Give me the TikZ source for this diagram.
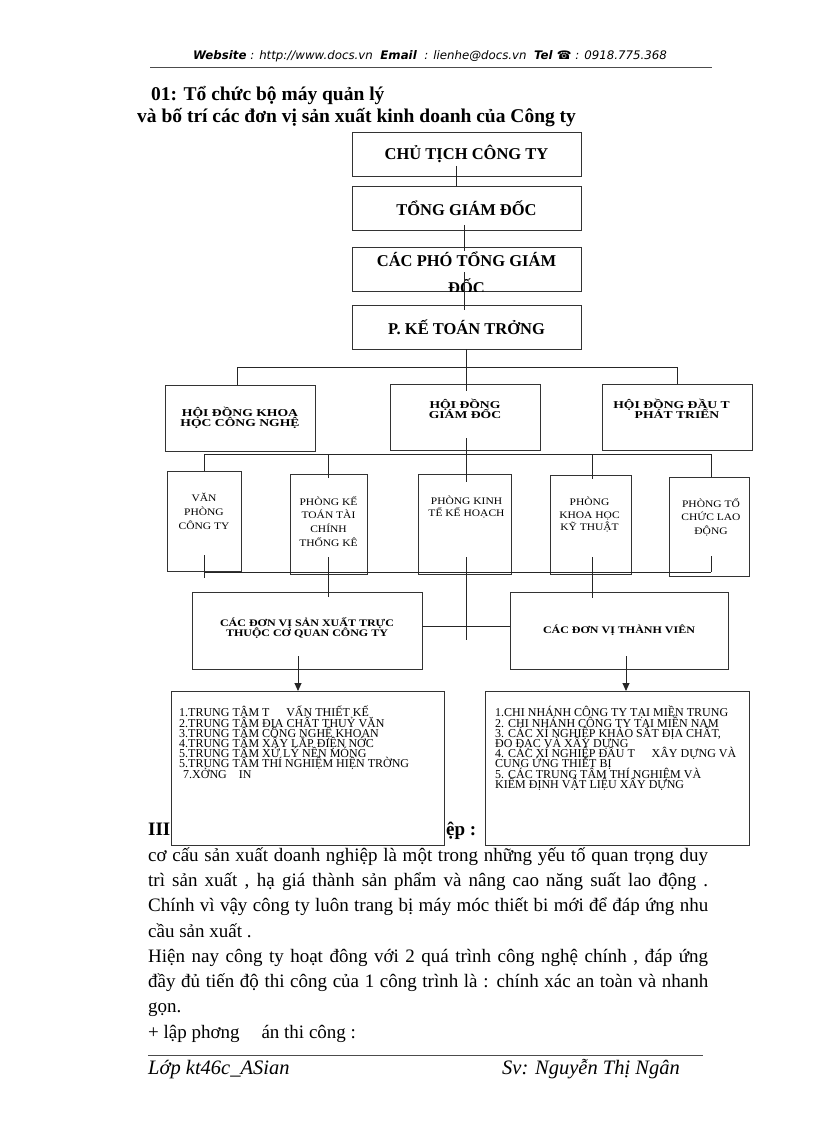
\documentclass[tikz,border=0pt]{standalone}
\usepackage{fontspec}
\setmainfont{Liberation Serif}
\newfontfamily\webfont{DejaVu Sans}
\newfontfamily\boxwide[FakeStretch=1.3]{Liberation Serif}
\newfontfamily\boxmid[FakeStretch=1.2]{Liberation Serif}
\newfontfamily\boxsmall[FakeStretch=1.15]{Liberation Serif}
\usetikzlibrary{positioning,arrows.meta}
\setlength{\lineskiplimit}{-30pt}

\tikzset{
  frame/.style={draw=black!80, line width=0.9pt, fill=white, inner sep=0pt, outer sep=0pt, anchor=north west, align=center},
  headbox/.style={frame, minimum width=229pt, minimum height=44pt, font=\bfseries\fontsize{16.5}{17}\selectfont},
  hoibox/.style={frame, minimum width=150pt, minimum height=66pt, font=\boxwide\bfseries\fontsize{10.5}{9.5}\selectfont},
  phongbox/.style={frame, minimum height=100pt},
  donvibox/.style={frame, minimum height=77pt, font=\boxmid\bfseries\fontsize{10}{9.7}\selectfont},
  listbox/.style={frame, minimum height=154pt},
  hoitext/.style={inner sep=0pt, align=center, font=\boxwide\bfseries\fontsize{10.5}{9.5}\selectfont},
  phongtext/.style={inner sep=0pt, align=center, font=\boxsmall\fontsize{10}{13.7}\selectfont},
  listtext/.style={inner sep=0pt, align=left, anchor=north west, font=\fontsize{12}{10.2}\selectfont},
  bodytext/.style={inner sep=0pt, anchor=base west, font=\fontsize{19}{25}\selectfont},
  conn/.style={draw=black!85, line width=0.9pt},
  arr/.style={conn, -{Triangle[length=8pt, width=7pt]}},
}

\begin{document}
\begin{tikzpicture}[x=1pt, y=-1pt]
    \useasboundingbox (0,0) rectangle (816,1123);

    % dau trang
    \node[anchor=base, inner sep=0pt, font=\webfont\itshape\fontsize{11.8}{12}\selectfont] (web) at (430,60)
        {\textbf{Website} : http://www.docs.vn \ \textbf{Email} \ : lienhe@docs.vn \ \textbf{Tel ☎} : 0918.775.368};
    \draw[black!70, line width=0.6pt] (150,67) -- (712,67);

    \node[anchor=base west, inner sep=0pt, font=\bfseries\fontsize{19.5}{20}\selectfont] (tieude1) at (151,101) {01: Tổ chức bộ máy quản lý};
    \node[anchor=base west, inner sep=0pt, font=\bfseries\fontsize{19.5}{20}\selectfont] (tieude2) at (137,123) {và bố trí các đơn vị sản xuất kinh doanh của Công ty};

    % cap lanh dao
    \node[headbox] (chutich) at (352,132) {CHỦ TỊCH CÔNG TY};
    \node[headbox] (tonggd) at (352,186) {TỔNG GIÁM ĐỐC};
    \node[headbox] (phogd) at (352,247) {};
    \begin{scope}
        \clip (phogd.south west) rectangle (phogd.north east);
        \node[inner sep=0pt, align=center, font=\bfseries\fontsize{16.5}{27}\selectfont, below=5pt of phogd.north] (photext) {CÁC PHÓ TỔNG GIÁM\\ĐỐC};
    \end{scope}
    \node[headbox] (ketoan) at (352,305) {P. KẾ TOÁN TRỞNG};

    % hoi dong
    \node[hoibox] (hdkh) at (165,385) {HỘI ĐỒNG KHOA\\HỌC CÔNG NGHỆ};
    \node[hoibox] (hdgd) at (390,384) {};
    \node[hoitext, below=15pt of hdgd.north] (hdgdtext) {HỘI ĐỒNG\\GIÁM ĐỐC};
    \node[hoibox] (hddt) at (602,384) {};
    \node[hoitext, below=15pt of hddt.north] (hddttext) {HỘI ĐỒNG ĐẦU T\hphantom{Ư}\\PHÁT TRIỂN};

    % cac phong
    \node[phongbox, minimum width=74pt] (vp) at (167,471) {};
    \node[phongbox, minimum width=77pt] (pkt) at (290,474) {};
    \node[phongbox, minimum width=93pt] (pkh) at (418,474) {};
    \node[phongbox, minimum width=81pt, minimum height=99pt] (pkhkt) at (550,475) {};
    \node[phongbox, minimum width=80pt, minimum height=99pt] (ptc) at (669,477) {};
    \node[phongtext, below=22pt of vp.north] (vptext) {VĂN\\PHÒNG\\CÔNG TY};
    \node[phongtext, below=22pt of pkt.north] (pkttext) {PHÒNG KẾ\\TOÁN TÀI\\CHÍNH\\THỐNG KÊ};
    \node[phongtext, below=22pt of pkh.north, xshift=2pt, font=\boxsmall\fontsize{10}{12}\selectfont] (pkhtext) {PHÒNG KINH\\TẾ KẾ HOẠCH};
    \node[phongtext, below=22pt of pkhkt.north, xshift=-1pt, font=\boxsmall\fontsize{10}{12.5}\selectfont] (pkhkttext) {PHÒNG\\KHOA HỌC\\KỸ THUẬT};
    \node[phongtext, below=21pt of ptc.north, xshift=2pt] (ptctext) {PHÒNG TỔ\\CHỨC LAO\\ĐỘNG};

    % don vi
    \node[donvibox, minimum width=230pt] (dvsx) at (192,592) {CÁC ĐƠN VỊ SẢN XUẤT TRỰC\\THUỘC CƠ QUAN CÔNG TY\\[-2.7pt]};
    \node[donvibox, minimum width=218pt] (dvtv) at (510,592) {CÁC ĐƠN VỊ THÀNH VIÊN};

    \node[listbox, minimum width=273pt] (dslist) at (171,691) {};
    \node[listbox, minimum width=264pt] (tvlist) at (485,691) {};
    \node[listtext] (dstext) at (179,706)
        {1.TRUNG TÂM T\hspace{1.4em}VẤN THIẾT KẾ\\
         2.TRUNG TÂM ĐỊA CHẤT THUỶ VĂN\\
         3.TRUNG TÂM CÔNG NGHỆ KHOAN\\
         4.TRUNG TÂM XÂY LẮP ĐIỆN NỚC\\
         5.TRUNG TÂM XỬ LÝ NỀN MÓNG\\
         5.TRUNG TÂM THÍ NGHIỆM HIỆN TRỜNG\\
         \hspace{4pt}7.XỞNG\hspace{1em}IN};
    \node[listtext] (tvtext) at (495,706)
        {1.CHI NHÁNH CÔNG TY TẠI MIỀN TRUNG\\
         2. CHI NHÁNH CÔNG TY TẠI MIỀN NAM\\
         3. CÁC XÍ NGHIỆP KHẢO SÁT ĐỊA CHẤT,\\
         ĐO ĐẠC VÀ XÂY DỰNG\\
         4. CÁC XÍ NGHIỆP ĐẦU T\hspace{1.4em}XÂY DỰNG VÀ\\
         CUNG ỨNG THIẾT BỊ\\
         5. CÁC TRUNG TÂM THÍ NGHIỆM VÀ\\
         KIỂM ĐỊNH VẬT LIỆU XÂY DỰNG};

    % duong noi
    \coordinate (j1) at (456,166);
    \coordinate (j2) at (464,225);
    \coordinate (j3) at (464,251);
    \coordinate (j4) at (464,272);
    \coordinate (j5) at (464,310);
    \coordinate (busAl) at (237,367);
    \coordinate (busAr) at (677,367);
    \coordinate (hdgdin) at (466,391);
    \coordinate (hdgdout) at (466,438);
    \coordinate (busBl) at (204,454);
    \coordinate (busBr) at (711,454);
    \coordinate (busCl) at (204,572);
    \coordinate (busCr) at (711,572);
    \coordinate (nang) at (0,626);
    \coordinate (arrL) at (298,656);
    \coordinate (arrR) at (626,656);

    \draw[conn] (j1) -- (j1 |- tonggd.north);
    \draw[conn] (j2) -- (j3);
    \draw[conn] (j4) -- (j5);
    \draw[conn] (hdgdin |- ketoan.south) -- (hdgdin);
    \draw[conn] (busAl) -- (busAr);
    \draw[conn] (busAl) -- (busAl |- hdkh.north);
    \draw[conn] (busAr) -- (busAr |- hddt.north);
    \draw[conn] (hdgdout) -- (466,482);
    \draw[conn] (busBl) -- (busBr);
    \draw[conn] (busBl) -- (busBl |- vp.north);
    \draw[conn] (328,454) -- (328,478);
    \draw[conn] (592,454) -- (592,479);
    \draw[conn] (busBr) -- (busBr |- ptc.north);
    \draw[conn] (busCl) -- (busCr);
    \draw[conn] (204,555) -- (204,578);
    \draw[conn] (328,557) -- (328,597);
    \draw[conn] (466,557) -- (466,640);
    \draw[conn] (592,557) -- (592,598);
    \draw[conn] (711,556) -- (busCr);
    \draw[conn] (dvsx.east |- nang) -- (dvtv.west |- nang);
    \draw[arr] (arrL) -- (arrL |- dslist.north);
    \draw[arr] (arrR) -- (arrR |- tvlist.north);

    % doan van
    \node[bodytext, font=\bfseries\fontsize{19}{25}\selectfont] (muc3) at (148,835) {III};
    \node[bodytext, font=\bfseries\fontsize{19}{25}\selectfont] (muc3b) at (446,835) {ệp :};
    \node[bodytext] (d1) at (148,861) {\makebox[560pt][s]{cơ cấu sản xuất doanh nghiệp là một trong những yếu tố quan trọng duy}};
    \node[bodytext] (d2) at (148,886) {\makebox[560pt][s]{trì sản xuất , hạ giá thành sản phẩm và nâng cao năng suất lao động .}};
    \node[bodytext] (d3) at (148,911) {\makebox[560pt][s]{Chính vì vậy công ty luôn trang bị máy móc thiết bi mới để đáp ứng nhu}};
    \node[bodytext] (d4) at (148,937) {cầu sản xuất .};
    \node[bodytext] (d5) at (148,962) {\makebox[560pt][s]{Hiện nay công ty hoạt đông với 2 quá trình công nghệ chính , đáp ứng}};
    \node[bodytext] (d6) at (148,987) {\makebox[560pt][s]{đầy đủ tiến độ thi công của 1 công trình là : chính xác an toàn và nhanh}};
    \node[bodytext] (d7) at (148,1012) {gọn.};
    \node[bodytext] (d8) at (148,1038) {+ lập phơng\hspace{0.9em} án thi công :};

    % chan trang
    \draw[black!70, line width=0.6pt] (148,1055) -- (703,1055);
    \node[anchor=base west, inner sep=0pt, font=\itshape\fontsize{20.5}{21}\selectfont] (lop) at (148,1074) {Lớp kt46c\_ASian};
    \node[anchor=base west, inner sep=0pt, font=\itshape\fontsize{20.5}{21}\selectfont] (sv) at (502,1074) {Sv: Nguyễn Thị Ngân};
\end{tikzpicture}
\end{document}
